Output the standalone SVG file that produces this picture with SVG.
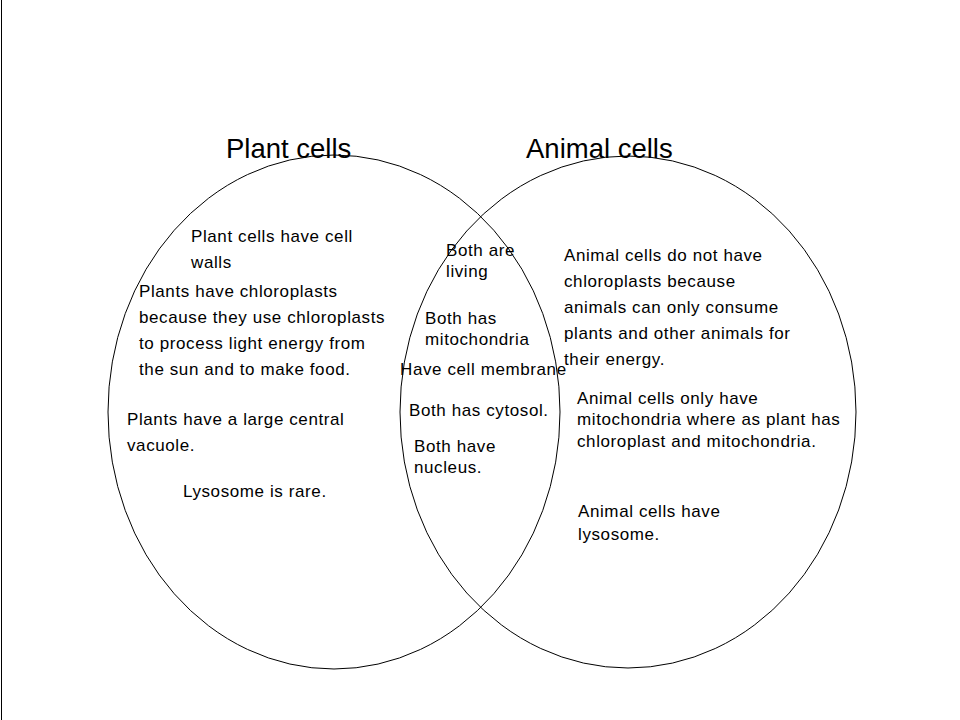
<svg xmlns="http://www.w3.org/2000/svg" width="960" height="720" viewBox="0 0 960 720">
<style>
text{font-family:"Liberation Sans",Arial,sans-serif;font-size:17px;letter-spacing:0.6px;fill:#000}
.t{font-size:27.5px;letter-spacing:0}
.c{fill:none;stroke:#000;stroke-width:1}
</style>
<rect width="960" height="720" fill="#fff"/>
<line x1="1.5" y1="0" x2="1.5" y2="720" stroke="#000" stroke-width="1"/>
<g id="plant"><ellipse class="c" cx="334" cy="412" rx="226" ry="257"/></g>
<g id="animal"><ellipse class="c" cx="628" cy="412" rx="228" ry="256"/></g>
<g id="titles">
<text class="t" x="226" y="158">Plant cells</text>
<text class="t" x="526" y="158">Animal cells</text>
</g>
<g id="left">
<text x="191" y="242">Plant cells have cell</text>
<text x="191" y="268">walls</text>
<text x="139" y="297">Plants have chloroplasts</text>
<text x="139" y="323">because they use chloroplasts</text>
<text x="139" y="349">to process light energy from</text>
<text x="139" y="375">the sun and to make food.</text>
<text x="127" y="425">Plants have a large central</text>
<text x="127" y="451">vacuole.</text>
<text x="183" y="497">Lysosome is rare.</text>
</g>
<g id="middle">
<text x="446" y="256">Both are</text>
<text x="446" y="277">living</text>
<text x="425" y="324">Both has</text>
<text x="425" y="345">mitochondria</text>
<text x="400" y="375">Have cell membrane</text>
<text x="409" y="416">Both has cytosol.</text>
<text x="414" y="452">Both have</text>
<text x="414" y="473">nucleus.</text>
</g>
<g id="right">
<text x="564" y="261">Animal cells do not have</text>
<text x="564" y="287">chloroplasts because</text>
<text x="564" y="313">animals can only consume</text>
<text x="564" y="339">plants and other animals for</text>
<text x="564" y="365">their energy.</text>
<text x="577" y="404">Animal cells only have</text>
<text x="577" y="425">mitochondria where as plant has</text>
<text x="577" y="447">chloroplast and mitochondria.</text>
<text x="578" y="517">Animal cells have</text>
<text x="578" y="540">lysosome.</text>
</g>
</svg>
